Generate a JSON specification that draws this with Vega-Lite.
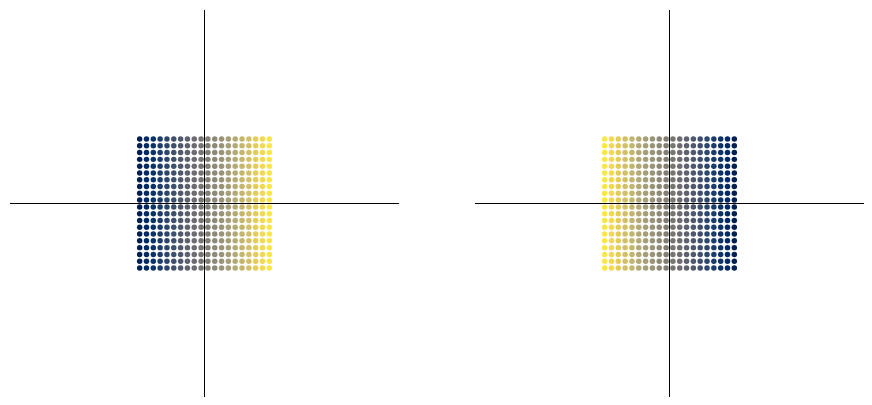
{
  "$schema": "https://vega.github.io/schema/vega-lite/v6.json",
  "padding": {"left": 9, "top": 9, "right": 8, "bottom": 8},
  "spacing": 74,
  "config": {"view": {"stroke": null}},
  "datasets": {
    "grid": [
      {"x": -1.0, "ys": [-1.0, -0.8947, -0.7895, -0.6842, -0.5789, -0.4737, -0.3684, -0.2632, -0.1579, -0.0526, 0.0526, 0.1579, 0.2632, 0.3684, 0.4737, 0.5789, 0.6842, 0.7895, 0.8947, 1.0]},
      {"x": -0.8947, "ys": [-1.0, -0.8947, -0.7895, -0.6842, -0.5789, -0.4737, -0.3684, -0.2632, -0.1579, -0.0526, 0.0526, 0.1579, 0.2632, 0.3684, 0.4737, 0.5789, 0.6842, 0.7895, 0.8947, 1.0]},
      {"x": -0.7895, "ys": [-1.0, -0.8947, -0.7895, -0.6842, -0.5789, -0.4737, -0.3684, -0.2632, -0.1579, -0.0526, 0.0526, 0.1579, 0.2632, 0.3684, 0.4737, 0.5789, 0.6842, 0.7895, 0.8947, 1.0]},
      {"x": -0.6842, "ys": [-1.0, -0.8947, -0.7895, -0.6842, -0.5789, -0.4737, -0.3684, -0.2632, -0.1579, -0.0526, 0.0526, 0.1579, 0.2632, 0.3684, 0.4737, 0.5789, 0.6842, 0.7895, 0.8947, 1.0]},
      {"x": -0.5789, "ys": [-1.0, -0.8947, -0.7895, -0.6842, -0.5789, -0.4737, -0.3684, -0.2632, -0.1579, -0.0526, 0.0526, 0.1579, 0.2632, 0.3684, 0.4737, 0.5789, 0.6842, 0.7895, 0.8947, 1.0]},
      {"x": -0.4737, "ys": [-1.0, -0.8947, -0.7895, -0.6842, -0.5789, -0.4737, -0.3684, -0.2632, -0.1579, -0.0526, 0.0526, 0.1579, 0.2632, 0.3684, 0.4737, 0.5789, 0.6842, 0.7895, 0.8947, 1.0]},
      {"x": -0.3684, "ys": [-1.0, -0.8947, -0.7895, -0.6842, -0.5789, -0.4737, -0.3684, -0.2632, -0.1579, -0.0526, 0.0526, 0.1579, 0.2632, 0.3684, 0.4737, 0.5789, 0.6842, 0.7895, 0.8947, 1.0]},
      {"x": -0.2632, "ys": [-1.0, -0.8947, -0.7895, -0.6842, -0.5789, -0.4737, -0.3684, -0.2632, -0.1579, -0.0526, 0.0526, 0.1579, 0.2632, 0.3684, 0.4737, 0.5789, 0.6842, 0.7895, 0.8947, 1.0]},
      {"x": -0.1579, "ys": [-1.0, -0.8947, -0.7895, -0.6842, -0.5789, -0.4737, -0.3684, -0.2632, -0.1579, -0.0526, 0.0526, 0.1579, 0.2632, 0.3684, 0.4737, 0.5789, 0.6842, 0.7895, 0.8947, 1.0]},
      {"x": -0.0526, "ys": [-1.0, -0.8947, -0.7895, -0.6842, -0.5789, -0.4737, -0.3684, -0.2632, -0.1579, -0.0526, 0.0526, 0.1579, 0.2632, 0.3684, 0.4737, 0.5789, 0.6842, 0.7895, 0.8947, 1.0]},
      {"x": 0.0526, "ys": [-1.0, -0.8947, -0.7895, -0.6842, -0.5789, -0.4737, -0.3684, -0.2632, -0.1579, -0.0526, 0.0526, 0.1579, 0.2632, 0.3684, 0.4737, 0.5789, 0.6842, 0.7895, 0.8947, 1.0]},
      {"x": 0.1579, "ys": [-1.0, -0.8947, -0.7895, -0.6842, -0.5789, -0.4737, -0.3684, -0.2632, -0.1579, -0.0526, 0.0526, 0.1579, 0.2632, 0.3684, 0.4737, 0.5789, 0.6842, 0.7895, 0.8947, 1.0]},
      {"x": 0.2632, "ys": [-1.0, -0.8947, -0.7895, -0.6842, -0.5789, -0.4737, -0.3684, -0.2632, -0.1579, -0.0526, 0.0526, 0.1579, 0.2632, 0.3684, 0.4737, 0.5789, 0.6842, 0.7895, 0.8947, 1.0]},
      {"x": 0.3684, "ys": [-1.0, -0.8947, -0.7895, -0.6842, -0.5789, -0.4737, -0.3684, -0.2632, -0.1579, -0.0526, 0.0526, 0.1579, 0.2632, 0.3684, 0.4737, 0.5789, 0.6842, 0.7895, 0.8947, 1.0]},
      {"x": 0.4737, "ys": [-1.0, -0.8947, -0.7895, -0.6842, -0.5789, -0.4737, -0.3684, -0.2632, -0.1579, -0.0526, 0.0526, 0.1579, 0.2632, 0.3684, 0.4737, 0.5789, 0.6842, 0.7895, 0.8947, 1.0]},
      {"x": 0.5789, "ys": [-1.0, -0.8947, -0.7895, -0.6842, -0.5789, -0.4737, -0.3684, -0.2632, -0.1579, -0.0526, 0.0526, 0.1579, 0.2632, 0.3684, 0.4737, 0.5789, 0.6842, 0.7895, 0.8947, 1.0]},
      {"x": 0.6842, "ys": [-1.0, -0.8947, -0.7895, -0.6842, -0.5789, -0.4737, -0.3684, -0.2632, -0.1579, -0.0526, 0.0526, 0.1579, 0.2632, 0.3684, 0.4737, 0.5789, 0.6842, 0.7895, 0.8947, 1.0]},
      {"x": 0.7895, "ys": [-1.0, -0.8947, -0.7895, -0.6842, -0.5789, -0.4737, -0.3684, -0.2632, -0.1579, -0.0526, 0.0526, 0.1579, 0.2632, 0.3684, 0.4737, 0.5789, 0.6842, 0.7895, 0.8947, 1.0]},
      {"x": 0.8947, "ys": [-1.0, -0.8947, -0.7895, -0.6842, -0.5789, -0.4737, -0.3684, -0.2632, -0.1579, -0.0526, 0.0526, 0.1579, 0.2632, 0.3684, 0.4737, 0.5789, 0.6842, 0.7895, 0.8947, 1.0]},
      {"x": 1.0, "ys": [-1.0, -0.8947, -0.7895, -0.6842, -0.5789, -0.4737, -0.3684, -0.2632, -0.1579, -0.0526, 0.0526, 0.1579, 0.2632, 0.3684, 0.4737, 0.5789, 0.6842, 0.7895, 0.8947, 1.0]}
    ],
    "origin": [{"v": 0}]
  },
  "hconcat": [
    {
      "width": 389,
      "height": 387,
      "layer": [
        {
          "data": {"name": "grid"},
          "transform": [{"flatten": ["ys"], "as": ["y"]}],
          "mark": {"type": "circle", "size": 30, "opacity": 1},
          "encoding": {
            "x": {"field": "x", "type": "quantitative", "scale": {"domain": [-2.94, 2.94]}, "axis": null},
            "y": {"field": "y", "type": "quantitative", "scale": {"domain": [-3, 3]}, "axis": null},
            "color": {"field": "x", "type": "quantitative", "scale": {"scheme": "cividis"}, "legend": null}
          }
        },
        {
          "data": {"name": "origin"},
          "mark": {"type": "rule", "color": "black", "strokeWidth": 1},
          "encoding": {"x": {"field": "v", "type": "quantitative"}}
        },
        {
          "data": {"name": "origin"},
          "mark": {"type": "rule", "color": "black", "strokeWidth": 1},
          "encoding": {"y": {"field": "v", "type": "quantitative"}}
        }
      ]
    },
    {
      "width": 389,
      "height": 387,
      "layer": [
        {
          "data": {"name": "grid"},
          "transform": [{"flatten": ["ys"], "as": ["y"]}],
          "mark": {"type": "circle", "size": 30, "opacity": 1},
          "encoding": {
            "x": {"field": "x", "type": "quantitative", "scale": {"domain": [-2.94, 2.94]}, "axis": null},
            "y": {"field": "y", "type": "quantitative", "scale": {"domain": [-3, 3]}, "axis": null},
            "color": {"field": "x", "type": "quantitative", "scale": {"scheme": "cividis", "reverse": true}, "legend": null}
          }
        },
        {
          "data": {"name": "origin"},
          "mark": {"type": "rule", "color": "black", "strokeWidth": 1},
          "encoding": {"x": {"field": "v", "type": "quantitative"}}
        },
        {
          "data": {"name": "origin"},
          "mark": {"type": "rule", "color": "black", "strokeWidth": 1},
          "encoding": {"y": {"field": "v", "type": "quantitative"}}
        }
      ]
    }
  ],
  "resolve": {"scale": {"color": "independent"}}
}
